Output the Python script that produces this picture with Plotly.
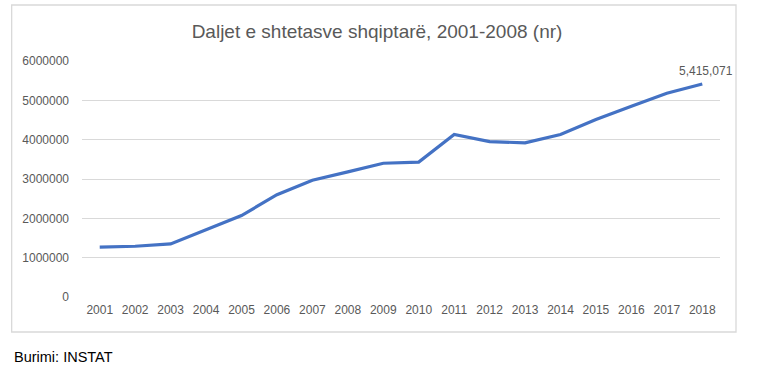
import plotly.graph_objects as go

years = [str(y) for y in range(2001, 2019)]
values = [1270000, 1290000, 1350000, 1700000, 2070000, 2600000, 2970000, 3180000,
          3400000, 3430000, 4130000, 3950000, 3920000, 4130000, 4510000, 4850000,
          5180000, 5415071]
title_text = "Daljet e shtetasve shqiptarë, 2001-2008 (nr)"
source_text = "Burimi: INSTAT"
last_label = "5,415,071"

FONT = "Liberation Sans"
GREY = "#595959"

fig = go.Figure()
fig.add_trace(go.Scatter(x=years, y=values, mode="lines",
                         line=dict(color="#4472C4", width=3.2), hoverinfo="skip"))

L, R, T, B = 82.3, 48, 61, 78
pw = 768 - L - R
ph = 375 - T - B

def px_x(x):
    return (x - L) / pw

def px_y(y):
    return (375 - B - y) / ph

fig.update_layout(
    width=768, height=375,
    margin=dict(l=L, r=R, t=T, b=B),
    paper_bgcolor="white", plot_bgcolor="white",
    showlegend=False,
    font=dict(family=FONT, color=GREY, size=12),
    title=dict(text=title_text, x=(377) / 768, xanchor="center",
               y=1 - 31 / 375, yanchor="middle",
               font=dict(family=FONT, size=19, color=GREY)),
    xaxis=dict(type="category", range=[-0.5, 17.5], showgrid=False, zeroline=False,
               showline=False, ticks="", tickfont=dict(size=12, color=GREY),
               ticklabelstandoff=4),
    yaxis=dict(range=[0, 6000000], tickvals=[0, 1000000, 2000000, 3000000, 4000000, 5000000, 6000000],
               ticktext=["0", "1000000", "2000000", "3000000", "4000000", "5000000", "6000000"],
               showgrid=True, gridcolor="#d9d9d9", gridwidth=1, zeroline=False,
               showline=False, ticks="", tickfont=dict(size=12, color=GREY),
               ticklabelstandoff=12),
    shapes=[dict(type="rect", xref="paper", yref="paper",
                 x0=px_x(12), x1=px_x(736), y0=px_y(332), y1=px_y(5),
                 line=dict(color="#d9d9d9", width=1.3), fillcolor="rgba(0,0,0,0)", layer="below")],
    annotations=[
        dict(x=len(years) - 1, y=values[-1], xref="x", yref="y", text=last_label,
             showarrow=False, xanchor="center", yanchor="bottom", xshift=4, yshift=4,
             font=dict(family=FONT, size=12, color=GREY)),
        dict(x=px_x(12), y=px_y(357), xref="paper", yref="paper", text=source_text,
             showarrow=False, xanchor="left", yanchor="middle",
             font=dict(family=FONT, size=14.5, color="#000000")),
    ],
)

fig.write_html("out.html", config={"displayModeBar": False},
               post_script="document.body.style.margin='0';")
